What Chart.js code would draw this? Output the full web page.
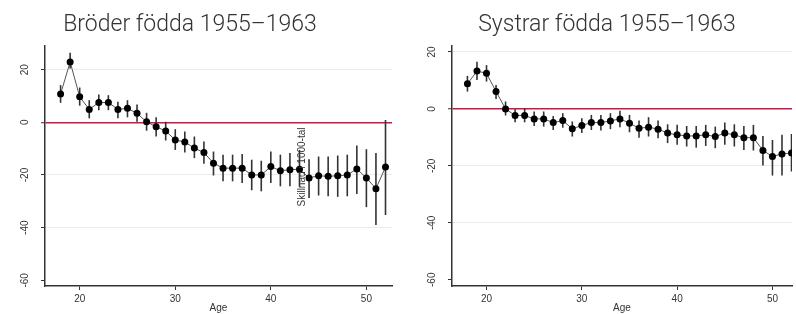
<!DOCTYPE html>
<html>
<head>
<meta charset="utf-8">
<script src="https://cdn.jsdelivr.net/npm/chart.js@4.4.1/dist/chart.umd.min.js"></script>
<style>
  body { margin: 0; background: #fff; }
  canvas { position: absolute; top: 0; }
  #brothers { left: 0; }
  #sisters { left: 396px; }
</style>
</head>
<body>
<canvas id="brothers" width="396" height="314"></canvas>
<canvas id="sisters" width="400" height="314"></canvas>
<script>
// Ages on the x axis
const ages = [18, 19, 20, 21, 22, 23, 24, 25, 26, 27, 28, 29, 30, 31, 32, 33, 34, 35,
              36, 37, 38, 39, 40, 41, 42, 43, 44, 45, 46, 47, 48, 49, 50, 51, 52];

// Brothers: estimate and confidence interval
const brothersEst = [10.7, 22.9, 9.7, 4.9, 7.5, 7.5, 4.9, 5.3, 3.4, 0.2, -1.7, -3.3, -6.7, -7.5, -9.8, -11.5, -15.5, -17.4,
                     -17.4, -17.4, -20, -20, -16.8, -18.4, -18, -17.8, -21.1, -20.3, -20.5, -20.3, -20, -17.7, -21.1, -25.2, -17];
const brothersLo = [7.4, 20.4, 6.3, 1.5, 4.6, 4.6, 1.5, 1.9, 0.2, -3.2, -5.4, -6.9, -10.5, -11.5, -13.6, -15.7, -20.2, -22.4,
                    -22.4, -23, -25.8, -26.2, -23, -24.3, -24.3, -24.5, -28.7, -27.8, -28.1, -28.3, -28.1, -27.2, -32.2, -39, -35.2];
const brothersHi = [14.1, 26.4, 13.2, 8.4, 10.6, 10.3, 7.8, 8.4, 6.8, 3.6, 1.9, 0.2, -2.6, -3.5, -5.4, -7.3, -11.1, -12.3,
                    -12.3, -12, -14.2, -14.6, -11.1, -12.3, -11.7, -10.5, -14, -13, -13, -12.6, -12.3, -8.8, -10.2, -11.7, 0.9];

// Sisters: estimate and confidence interval
const sistersEst = [8.8, 13.3, 12.5, 6.1, 0, -2.3, -2.3, -3.5, -3.5, -4.8, -4.1, -7, -5.8, -4.8, -4.8, -4.2, -3.5, -5,
                    -6.8, -6.4, -7.1, -8.5, -9.1, -9.5, -9.5, -9.1, -9.7, -8.5, -9.1, -10.1, -10.1, -14.6, -16.7, -15.8, -15.5];
const sistersLo = [6.1, 10.2, 9.6, 3.5, -2.3, -4.7, -4.7, -6, -6.2, -7.4, -6.6, -9.7, -8.5, -7.4, -7.6, -7.1, -6.4, -8.2,
                   -10.1, -9.7, -10.3, -12, -12.6, -13.2, -13.6, -13, -13.8, -12.6, -13.2, -14.4, -14.6, -19.9, -23.4, -23.4, -22];
const sistersHi = [11.6, 16.6, 15.4, 8.4, 2.6, -0.1, 0.2, -0.9, -0.9, -2.5, -1.5, -4.4, -3.3, -2.1, -2.1, -1.5, -0.6, -2.1,
                   -4.1, -2.9, -4.1, -5.4, -5.6, -6, -6, -5.6, -6.2, -4.8, -5.4, -6, -5.6, -9.5, -10.9, -9.1, -8.8];

const yTicks = [20, 0, -20, -40, -60];
const xTicks = [20, 30, 40, 50];

const tickFont = { family: '"Liberation Sans", Arial, sans-serif', size: 10 };
const ink = '#333';

// vertical CI lines, drawn under the points
const errorBars = {
  id: 'errorBars',
  beforeDatasetsDraw(chart, args, opts) {
    const { ctx, chartArea, scales: { x, y } } = chart;
    ctx.save();
    ctx.beginPath();
    ctx.rect(chartArea.left, chartArea.top, chartArea.width, chartArea.height);
    ctx.clip();
    ctx.strokeStyle = ink;
    ctx.lineWidth = 1.6;
    opts.lo.forEach((lo, i) => {
      const px = x.getPixelForValue(ages[i]);
      ctx.beginPath();
      ctx.moveTo(px, y.getPixelForValue(lo));
      ctx.lineTo(px, y.getPixelForValue(opts.hi[i]));
      ctx.stroke();
    });
    ctx.restore();
  }
};

// title, rotated y labels and the stray axis note
const decor = {
  id: 'decor',
  afterDraw(chart, args, opts) {
    const { ctx, scales: { y } } = chart;
    ctx.save();
    ctx.fillStyle = '#333';
    ctx.font = '300 23px Roboto, "Liberation Sans", sans-serif';
    ctx.textAlign = 'center';
    ctx.textBaseline = 'alphabetic';
    ctx.fillText(opts.title, opts.titleX, 31);

    ctx.font = '10px "Liberation Sans", Arial, sans-serif';
    yTicks.forEach(v => {
      ctx.save();
      ctx.translate(y.right - 17, y.getPixelForValue(v));
      ctx.rotate(-Math.PI / 2);
      ctx.fillText(String(v), 0, 0);
      ctx.restore();
    });

    if (opts.note) {
      ctx.save();
      ctx.translate(305, 167);
      ctx.rotate(-Math.PI / 2);
      ctx.fillText(opts.note, 0, 0);
      ctx.restore();
    }
    ctx.restore();
  }
};

const makeChart = (id, est, lo, hi, cfg) => {
  new Chart(document.getElementById(id), {
    type: 'line',
    data: {
      datasets: [{
        data: ages.map((a, i) => ({ x: a, y: est[i] })),
        borderColor: '#555',
        borderWidth: 1,
        pointRadius: 3.5,
        pointBackgroundColor: '#000',
        pointBorderWidth: 0,
        tension: 0
      }]
    },
    options: {
      responsive: false,
      animation: false,
      devicePixelRatio: 1,
      layout: { padding: { top: 46, right: cfg.padRight, left: 0, bottom: 0 } },
      plugins: {
        legend: { display: false },
        tooltip: { enabled: false },
        errorBars: { lo, hi },
        decor: { title: cfg.title, titleX: cfg.titleX, note: cfg.note }
      },
      scales: {
        x: {
          type: 'linear',
          min: cfg.xMin,
          max: cfg.xMax,
          afterBuildTicks: s => { s.ticks = xTicks.map(v => ({ value: v })); },
          afterFit: s => { s.height = 28; },
          grid: { drawOnChartArea: false, drawTicks: true, tickLength: 4, tickColor: ink },
          border: { color: ink, width: 1.5 },
          ticks: { font: tickFont, color: ink, padding: 3, maxRotation: 0, autoSkip: false },
          title: { display: true, text: 'Age', font: tickFont, color: ink, padding: 0 }
        },
        y: {
          min: cfg.yMin,
          max: cfg.yMax,
          afterBuildTicks: s => { s.ticks = yTicks.map(v => ({ value: v })); },
          afterFit: s => { s.width = cfg.axisWidth; },
          ticks: { display: false },
          grid: {
            drawTicks: true,
            tickLength: 4,
            tickColor: ink,
            tickWidth: 1,
            color: c => c.tick.value === 0 ? '#cc1744' : (c.tick.value === -60 ? 'rgba(0,0,0,0)' : '#e4eeee'),
            lineWidth: c => c.tick.value === 0 ? 1.5 : 1
          },
          border: { color: ink, width: 1.5 }
        }
      }
    },
    plugins: [errorBars, decor]
  });
};

makeChart('brothers', brothersEst, brothersLo, brothersHi, {
  title: 'Bröder födda 1955–1963', titleX: 190, note: 'Skillnad i 1000-tal',
  xMin: 16.37, xMax: 52.68, yMin: -62.15, yMax: 28.97, axisWidth: 45, padRight: 1
});

makeChart('sisters', sistersEst, sistersLo, sistersHi, {
  title: 'Systrar födda 1955–1963', titleX: 211, note: null,
  xMin: 16.38, xMax: 52.05, yMin: -62.2, yMax: 22.1, axisWidth: 56, padRight: 0
});
</script>
</body>
</html>
